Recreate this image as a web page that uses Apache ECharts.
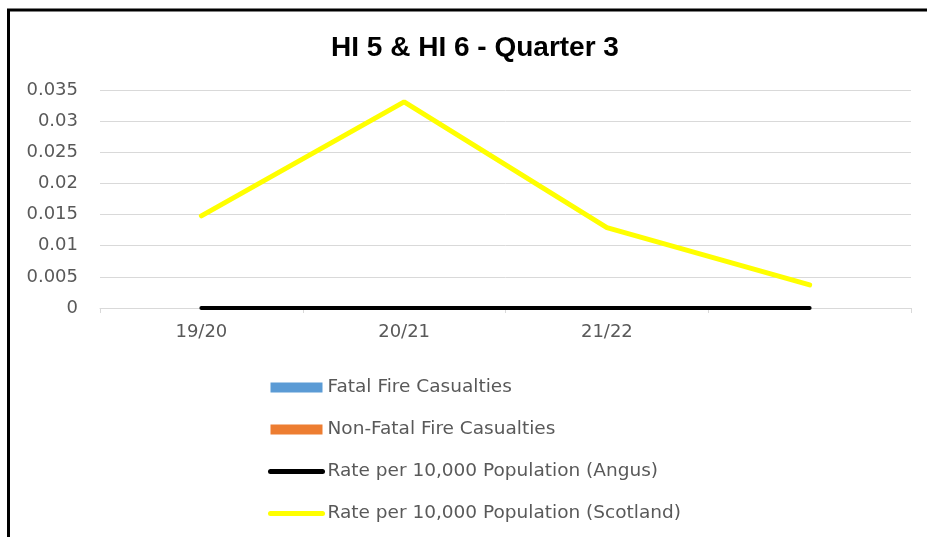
<!DOCTYPE html>
<html>
<head>
<meta charset="utf-8">
<script src="https://cdn.jsdelivr.net/npm/echarts@6/dist/echarts.min.js"></script>
<style>html,body{margin:0;padding:0;background:#fff}#c{width:927px;height:537px}</style>
</head>
<body>
<div id="c"></div>
<script>
const categories = ['19/20', '20/21', '21/22', ''];
const fatal = [0, 0, 0, 0];
const nonFatal = [0, 0, 0, 0];
const rateAngus = [0, 0, 0, 0];
const rateScotland = [0.0148, 0.0331, 0.0129, 0.0037];
const yTicks = [0, 0.005, 0.01, 0.015, 0.02, 0.025, 0.03, 0.035];

const chart = echarts.init(document.getElementById('c'));
const txt = '#595959';
const font = "'DejaVu Sans', sans-serif";
chart.setOption({
  animation: false,
  backgroundColor: '#fff',
  title: {
    text: 'HI 5 & HI 6 - Quarter 3',
    left: 470, top: 29, textAlign: 'center',
    textStyle: {fontFamily: "'Liberation Sans', Arial, sans-serif", fontWeight: 'bold', fontSize: 28, color: '#000'}
  },
  grid: {left: 100, right: 16, top: 90, bottom: 229, containLabel: false},
  xAxis: {
    type: 'category', data: categories, boundaryGap: true,
    axisLine: {lineStyle: {color: '#d9d9d9', width: 1}},
    axisTick: {show: true, lineStyle: {color: '#d9d9d9'}, length: 5},
    axisLabel: {color: txt, fontSize: 18, fontFamily: font, margin: 15}
  },
  yAxis: {
    type: 'value', min: 0, max: yTicks[yTicks.length - 1], interval: 0.005,
    axisLine: {show: false}, axisTick: {show: false},
    splitLine: {lineStyle: {color: '#d9d9d9', width: 1}},
    axisLabel: {color: txt, fontSize: 18, fontFamily: font, margin: 22,
      formatter: v => { const m = yTicks.find(t => Math.abs(t - v) < 1e-9); return m === undefined ? '' : String(m); }}
  },
  legend: {
    orient: 'vertical', left: 268, top: 378, itemGap: 23, padding: 0,
    itemWidth: 52, itemHeight: 10,
    textStyle: {color: txt, fontSize: 18.5, fontFamily: font},
    data: [
      {name: 'Fatal Fire Casualties', icon: 'rect'},
      {name: 'Non-Fatal Fire Casualties', icon: 'rect'},
      {name: 'Rate per 10,000 Population (Angus)', itemStyle: {opacity: 0}, lineStyle: {width: 5, color: '#000', cap: 'round'}},
      {name: 'Rate per 10,000 Population (Scotland)', itemStyle: {opacity: 0}, lineStyle: {width: 5, color: '#ffff00', cap: 'round'}}
    ]
  },
  series: [
    {name: 'Fatal Fire Casualties', type: 'bar', data: fatal, itemStyle: {color: '#5b9bd5'}, barGap: '0%'},
    {name: 'Non-Fatal Fire Casualties', type: 'bar', data: nonFatal, itemStyle: {color: '#ed7d31'}},
    {name: 'Rate per 10,000 Population (Angus)', type: 'line', data: rateAngus, symbol: 'none',
      lineStyle: {color: '#000', width: 4, cap: 'round'}, itemStyle: {color: '#000'}},
    {name: 'Rate per 10,000 Population (Scotland)', type: 'line', data: rateScotland, symbol: 'none',
      lineStyle: {color: '#ffff00', width: 5, cap: 'round'}, itemStyle: {color: '#ffff00'}}
  ],
  graphic: [{
    type: 'rect', silent: true,
    shape: {x: 8.5, y: 10, width: 1000, height: 600},
    style: {fill: 'none', stroke: '#000', lineWidth: 3}
  }]
});
</script>
</body>
</html>
